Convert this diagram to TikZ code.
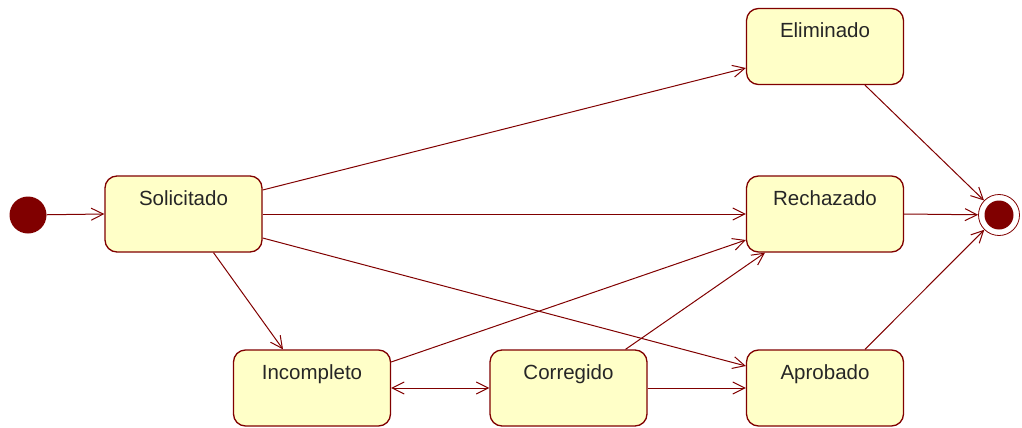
\documentclass[tikz,border=0pt]{standalone}
\usepackage{fontspec}
\setmainfont{Liberation Sans}
\usetikzlibrary{arrows.meta}
\definecolor{stred}{RGB}{128,0,0}
\definecolor{styellow}{RGB}{255,255,200}
\tikzset{
  state/.style={draw=stred, line width=1.3pt, fill=styellow, rounded corners=12pt,
    minimum width=157pt, inner sep=0pt, text height=29pt, text depth=47pt,
    font=\fontsize{20.5}{24}\selectfont, text=black!85},
  trans/.style={draw=stred, line width=1pt, -{Straight Barb[length=12pt,width=12pt]}},
}
\begin{document}
\begin{tikzpicture}[x=1pt, y=-1pt]
    \useasboundingbox (0,0) rectangle (1022,428);

    \node[circle, fill=stred, minimum size=37pt, inner sep=0pt] (ini) at (28, 215) {};

    \node[state] (sol) at (183.5, 214) {Solicitado};
    \node[state] (eli) at (825, 46.5) {Eliminado};
    \node[state] (rec) at (825, 214) {Rechazado};
    \node[state] (apr) at (825, 388) {Aprobado};
    \node[state] (inc) at (312, 388) {Incompleto};
    \node[state] (cor) at (568.5, 388) {Corregido};

    \node[draw=stred, line width=0.8pt, circle, minimum size=41pt, inner sep=0pt,
      path picture={\fill[stred] (path picture bounding box.center) circle (14.5pt);}] (fin) at (999, 215) {};

    % Arrows
    \draw[trans] (ini) -- (sol.west);
    \draw[trans] ([yshift=24pt]sol.east) -- ([yshift=-21.5pt]eli.west);
    \draw[trans] (sol.east) -- (rec.west);
    \draw[trans] ([yshift=-24pt]sol.east) -- ([yshift=22pt]apr.west);
    \draw[trans] ([xshift=30pt]sol.south) -- ([xshift=-29pt]inc.north);
    \draw[trans] ([yshift=26pt]inc.east) -- ([yshift=-26pt]rec.west);
    \draw[trans] ([xshift=57pt]cor.north) -- ([xshift=-60pt]rec.south);
    \draw[trans, {Straight Barb[length=12pt,width=12pt]}-{Straight Barb[length=12pt,width=12pt]}] (inc.east) -- (cor.west);
    \draw[trans] (cor.east) -- (apr.west);

    \draw[trans] ([xshift=40pt]eli.south) -- (fin);
    \draw[trans] (rec.east) -- (fin);
    \draw[trans] ([xshift=40pt]apr.north) -- (fin);
\end{tikzpicture}
\end{document}
